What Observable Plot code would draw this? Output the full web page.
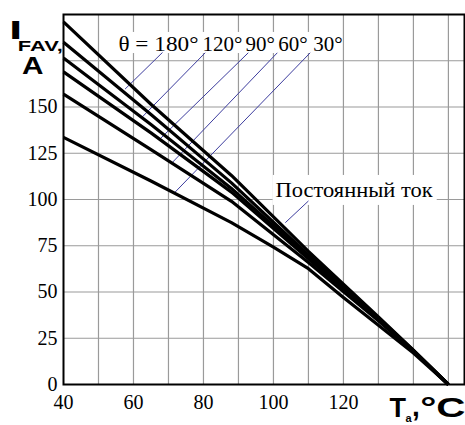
<!DOCTYPE html>
<html><head><meta charset="utf-8">
<script src="https://cdn.jsdelivr.net/npm/d3@7"></script>
<script src="https://cdn.jsdelivr.net/npm/@observablehq/plot@0.6"></script>
<style>
body{margin:0;background:#fff}
svg text{font-family:"Liberation Serif","DejaVu Serif",serif}
svg text.sans{font-family:"Liberation Sans","DejaVu Sans",sans-serif}
</style>
</head><body><div id="chart"></div>
<script>
// ---- data ----
const seriesNames = ["Постоянный ток", "180°", "120°", "90°", "60°", "30°"];
const xMain = [40, 65, 88, 110, 130, 140, 150];
const iDC  = [196, 151.5, 113, 72, 36.5, 18.5, 0];
const i180 = [185, 146, 109, 70, 36, 18.4, 0];
const i120 = [176.5, 140.5, 106, 69, 35.5, 18.3, 0];
const i90  = [169, 136, 104, 68, 35, 18.2, 0];
const i60  = [157, 127, 99, 66, 34.5, 18, 0];
const x30  = [40, 65, 88, 100, 110, 120, 130, 140, 150];
const i30  = [133.6, 110, 87.5, 74.3, 62.6, 47, 32, 17, 0];

const xTicks = [40, 60, 80, 100, 120];
const yTicks = [0, 25, 50, 75, 100, 125, 150];
const xGrid = [50, 60, 70, 80, 90, 100, 110, 120, 130, 140, 150];
const yGrid = [25, 50, 75, 100, 125, 150, 175];

// annotation labels (text, anchor position in data units)
const labelText = ["θ = 180°", "120°", "90°", "60°", "30°", "Постоянный ток"];
const labelX = [55.7, 79.7, 92.0, 101.4, 111.4, 100.6];
const labelY = [180.5, 180.5, 180.5, 180.5, 180.5, 101.2];

// leader lines: label end -> curve end
const leadX1 = [68.3, 80.5, 92.8, 101.1, 110.5, 110.0];
const leadY1 = [179.5, 179.3, 179.3, 179.3, 179.3, 99.2];
const leadX2 = [57.6, 62.4, 67.4, 71.1, 71.9, 103.4];
const leadY2 = [159.7, 144.4, 132.4, 120.0, 104.0, 87.5];

// white label backgrounds
const boxX1 = [55.6, 99.9], boxX2 = [119.1, 146.8];
const boxY1 = [178.9, 96.8], boxY2 = [190.3, 113.0];

// ---- build tables ----
const curveYs = [iDC, i180, i120, i90, i60];
const curves = [];
curveYs.forEach((ys, k) => ys.forEach((y, j) => curves.push({series: seriesNames[k], x: xMain[j], y})));
i30.forEach((y, j) => curves.push({series: seriesNames[5], x: x30[j], y}));
const labels = labelText.map((t, i) => ({t, x: labelX[i], y: labelY[i]}));
const leads = leadX1.map((v, i) => ({x1: v, y1: leadY1[i], x2: leadX2[i], y2: leadY2[i]}));
const boxes = boxX1.map((v, i) => ({x1: v, x2: boxX2[i], y1: boxY1[i], y2: boxY2[i]}));

const title = (txt, dx, dy, size) => Plot.text([txt], {
  frameAnchor: "top-left", text: d => d, dx, dy, textAnchor: "start", lineAnchor: "bottom",
  fontSize: size, fontWeight: "bold"
});

const chart = Plot.plot({
  width: 465, height: 425,
  marginLeft: 63, marginRight: 1, marginTop: 14, marginBottom: 41,
  x: {domain: [40, 154.6]},
  y: {domain: [0, 200]},
  style: {fontSize: "20px", color: "#000", background: "#fff"},
  marks: [
    Plot.ruleX(xGrid, {stroke: "#9a9a9a", strokeWidth: 1.2}),
    Plot.ruleY(yGrid, {stroke: "#9a9a9a", strokeWidth: 1.2}),
    Plot.rect(boxes, {x1: "x1", x2: "x2", y1: "y1", y2: "y2", fill: "white"}),
    Plot.link(leads, {x1: "x1", y1: "y1", x2: "x2", y2: "y2", stroke: "#3d3d9e", strokeWidth: 1}),
    Plot.line(curves, {x: "x", y: "y", z: "series", stroke: "black", strokeWidth: 3.2, strokeLinejoin: "round", strokeLinecap: "butt"}),
    Plot.text(labels, {x: "x", y: "y", text: "t", textAnchor: "start", lineAnchor: "bottom", fontSize: 21}),
    Plot.axisX({ticks: xTicks, tickSize: 0, tickPadding: 10, label: null, tickFormat: d => String(d)}),
    Plot.axisY({ticks: yTicks, tickSize: 0, tickPadding: 6, label: null, tickFormat: d => String(d)}),
    Plot.frame({stroke: "black", strokeWidth: 2}),
    title("I", 8.6 - 63, 38.5 - 14, 25),
    title("FAV,", 17.3 - 63, 50 - 14, 14),
    title("A", 21.5 - 63, 73.3 - 14, 23),
    title("T", 389 - 63, 416.7 - 14, 27),
    title("a", 405 - 63, 421.5 - 14, 11),
    title(",", 411.5 - 63, 415 - 14, 28),
    title("°C", 419.7 - 63, 416.7 - 14, 28)
  ]
});

// sans-serif bold lettering for the axis titles, plus horizontal stretch as in the reference
const sansSet = new Set(["I", "FAV,", "A", "T", "a", ",", "°C"]);
const stretch = new Map([["I", 13.3], ["FAV,", 45], ["A", 21.5], ["°C", 45.3], ["θ = 180°", 80], ["Постоянный ток", 157]]);
d3.select(chart).selectAll("text").each(function() {
  if (this.childElementCount !== 0) return;
  const t = this.textContent;
  if (sansSet.has(t)) this.classList.add("sans");
  if (stretch.has(t)) {
    this.setAttribute("textLength", stretch.get(t));
    this.setAttribute("lengthAdjust", "spacingAndGlyphs");
  }
});
document.getElementById("chart").appendChild(chart);
</script>
</body></html>
